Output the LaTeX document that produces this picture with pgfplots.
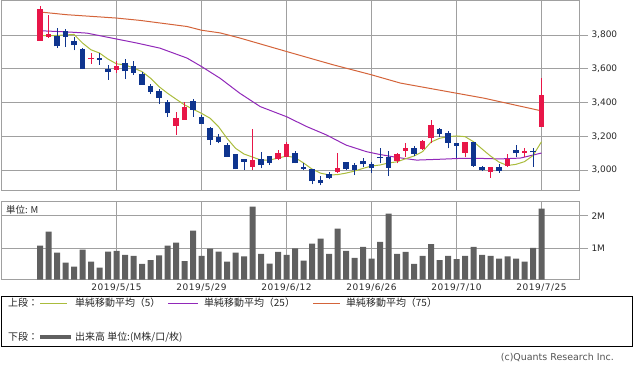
\documentclass[border=0pt]{standalone}
\usepackage{pgfplots}
\pgfplotsset{compat=1.18}
\usepackage{pgfplotstable}
\usepackage{fontspec}
\setmainfont{DejaVu Sans}
\newfontfamily\jp{Noto Sans CJK JP}
\newfontfamily\tickx[LetterSpace=6]{DejaVu Sans}
\definecolor{gridgray}{RGB}{160,160,160}
\definecolor{upred}{RGB}{232,22,72}
\definecolor{dnblue}{RGB}{14,52,142}
\definecolor{ma5c}{RGB}{170,188,60}
\definecolor{ma25c}{RGB}{145,40,185}
\definecolor{ma75c}{RGB}{212,100,58}
\definecolor{volgray}{RGB}{96,96,96}
\definecolor{txt}{RGB}{40,40,40}

\pgfplotstableread{
i o h l c
0 3767 3973 3765 3954
1 3788 3920 3783 3807
6 3657 3693 3629 3665
9 3594 3647 3577 3617
16 3263 3342 3208 3307
17 3297 3405 3297 3372
25 3020 3242 3000 3059
28 3064 3119 3059 3103
29 3079 3168 3079 3152
35 2990 3099 2980 3010
42 3055 3103 3040 3095
43 3115 3158 3075 3132
45 3123 3178 3119 3174
46 3188 3297 3158 3267
50 3103 3168 3075 3168
53 2990 3016 2954 3016
55 3024 3095 3020 3064
57 3103 3129 3075 3113
59 3257 3544 3257 3445
}\upT

\pgfplotstableread{
i o h l c
2 3791 3841 3722 3732
3 3821 3835 3728 3788
4 3767 3788 3708 3738
5 3716 3722 3598 3598
7 3661 3696 3623 3653
8 3600 3623 3534 3580
10 3633 3657 3538 3584
11 3617 3647 3564 3577
12 3570 3583 3504 3504
13 3499 3510 3449 3465
14 3469 3479 3390 3426
15 3405 3415 3313 3336
18 3410 3421 3316 3356
19 3313 3326 3273 3273
20 3247 3257 3148 3178
21 3194 3214 3158 3166
22 3148 3162 3079 3079
23 3095 3095 3004 3004
24 3065 3068 3000 3050
26 3064 3105 3010 3030
27 3083 3083 3030 3043
30 3103 3115 3040 3040
31 3016 3043 3000 3006
32 3006 3006 2915 2935
33 2941 2964 2909 2921
34 2974 2988 2945 2954
36 3049 3049 3000 3004
37 3030 3040 2970 3000
38 3053 3073 3020 3034
39 3036 3049 2984 3010
40 3077 3129 3040 3071
41 3079 3115 2964 3014
44 3132 3142 3083 3095
47 3243 3247 3198 3212
48 3221 3233 3129 3162
49 3162 3162 3069 3145
51 3168 3168 3020 3026
52 3020 3026 2994 3000
54 3020 3034 2984 2996
56 3119 3148 3079 3099
58 3113 3129 3020 3105
}\dnT

\pgfplotstableread{
i v
0 3795
2 3797
4 3803
5 3752
6 3712
7 3693
8 3657
9 3629
10 3623
11 3604
12 3583
13 3544
14 3494
15 3455
16 3420
17 3386
18 3360
19 3336
20 3307
21 3257
22 3188
23 3129
24 3095
25 3077
26 3059
27 3059
28 3071
29 3083
30 3074
31 3042
32 3006
33 2982
34 2971
35 2973
36 2982
37 2994
38 3010
39 3024
40 3030
41 3042
42 3049
43 3067
44 3083
45 3109
46 3166
47 3188
48 3198
49 3202
50 3198
51 3168
52 3125
53 3083
54 3047
55 3027
56 3034
57 3050
58 3086
59 3168
}\maA

\pgfplotstableread{
i v
0 3825
3.5 3817
5.5 3811
9 3776
11.4 3752
14.1 3722
17.3 3663
19 3613
21.2 3543
23.5 3455
25.9 3376
29 3316
31.4 3257
33.7 3208
36 3148
38.4 3109
40 3092
42 3075
44.3 3059
47 3064
49.4 3069
51.8 3069
54.1 3066
56.5 3071
59 3101
}\maB

\pgfplotstableread{
i v
0 3936
3.1 3920
9 3900
11.8 3886
17.3 3850
19 3828
21.2 3812
23.5 3782
29 3702
34.5 3623
39 3564
42.4 3515
49 3455
52.2 3426
58.5 3356
59 3350
}\maC

\pgfplotstableread{
i v
0 1.08
1 1.51
2 0.87
3 0.56
4 0.44
5 0.96
6 0.59
7 0.41
8 0.90
9 0.92
10 0.80
11 0.77
12 0.52
13 0.64
14 0.78
15 1.08
16 1.17
17 0.61
18 1.54
19 0.77
20 0.99
21 0.90
22 0.59
23 0.87
24 0.75
25 2.28
26 0.83
27 0.53
28 0.89
29 0.80
30 1.00
31 0.62
32 1.14
33 1.30
34 0.83
35 1.60
36 0.92
37 0.71
38 1.04
39 0.68
40 1.20
41 2.06
42 0.83
43 0.89
44 0.52
45 0.77
46 1.13
47 0.64
48 0.77
49 0.67
50 0.77
51 1.04
52 0.80
53 0.77
54 0.68
55 0.75
56 0.68
57 0.59
58 1.01
59 2.22
}\volT

\pgfplotsset{
  base/.style={
    scale only axis, width=578bp,
    xmin=-4.59, xmax=63.41,
    xtick={9,19,29,39,49,59},
    grid=major,
    major grid style={draw=gridgray, line width=0.8bp},
    axis line style={draw=gridgray, line width=0.8bp},
    ytick style={draw=gridgray, line width=0.8bp},
    xtick style={draw=none},
    ytick pos=right, yticklabel pos=right,
    tick align=outside, major tick length=9bp,
    ticklabel style={font=\fontsize{9}{10}\selectfont, text=txt},
    xticklabel style={yshift=8.5bp, font=\tickx\fontsize{9}{10}\selectfont},
  },
  wick/.style={draw=none, mark=none, forget plot,
    error bars/.cd, y dir=plus, y explicit, error mark=none,
    error bar style={line width=1bp, draw=#1, solid}},
  body/.style={draw=none, mark=none, forget plot,
    error bars/.cd, y dir=plus, y explicit, error mark=none,
    error bar style={line width=5.3bp, draw=#1, solid}},
}

\begin{document}
\begin{tikzpicture}[x=1bp,y=1bp]
\useasboundingbox (0,0) rectangle (633,372);

\begin{axis}[base, at={(1bp,182bp)}, anchor=south west, height=189.5bp,
  ymin=2882, ymax=4004,
  ytick={3000,3200,3400,3600,3800},
  yticklabels={{3,000},{3,200},{3,400},{3,600},{3,800}},
  xticklabels={}]
  \addplot[ma75c, line width=1bp, no marks] table[x=i,y=v] {\maC};
  \addplot[ma25c, line width=1bp, no marks] table[x=i,y=v] {\maB};
  \addplot[ma5c, line width=1bp, no marks] table[x=i,y=v] {\maA};
  \addplot[wick=upred] table[x=i, y=l, y error plus expr=\thisrow{h}-\thisrow{l}] {\upT};
  \addplot[body=upred] table[x=i, y=o, y error plus expr=\thisrow{c}-\thisrow{o}] {\upT};
  \addplot[wick=dnblue] table[x=i, y=l, y error plus expr=\thisrow{h}-\thisrow{l}] {\dnT};
  \addplot[body=dnblue] table[x=i, y=c, y error plus expr=\thisrow{o}-\thisrow{c}] {\dnT};
\end{axis}

\begin{axis}[base, at={(1bp,92.5bp)}, anchor=south west, height=78.5bp,
  ymin=0.043, ymax=2.45,
  ytick={1,2}, yticklabels={1M,2M},
  xticklabels={2019/5/15,2019/5/29,2019/6/12,2019/6/26,2019/7/10,2019/7/25}]
  \addplot[ybar, bar width=6bp, fill=volgray, draw=none] table[x=i,y=v] {\volT};
\end{axis}

\node[anchor=west, inner sep=0, font=\jp\fontsize{9.5}{10}\selectfont, text=txt] at (6,162) {単位: M};

% legend box
\draw[black, line width=0.8bp] (1,26) rectangle (632,76);
\begin{scope}[every node/.style={anchor=west, inner sep=0, font=\jp\fontsize{10}{11}\selectfont, text=txt}]
\node at (8,69) {上段：};
\draw[ma5c, line width=1bp] (40,69) -- (67,69);
\node at (75,69) {単純移動平均（5）};
\draw[ma25c, line width=1bp] (168,69) -- (198,69);
\node at (204,69) {単純移動平均（25）};
\draw[ma75c, line width=1bp] (313,69) -- (340,69);
\node at (346,69) {単純移動平均（75）};
\node at (8,35) {下段：};
\draw[volgray, line width=4bp] (40,35) -- (71,35);
\node at (75,35) {出来高 単位:(M株/口/枚)};
\end{scope}
\node[anchor=east, inner sep=0, font=\fontsize{9.5}{10}\selectfont, text=txt!80] at (614,14) {(c)Quants Research Inc.};
\end{tikzpicture}
\end{document}
